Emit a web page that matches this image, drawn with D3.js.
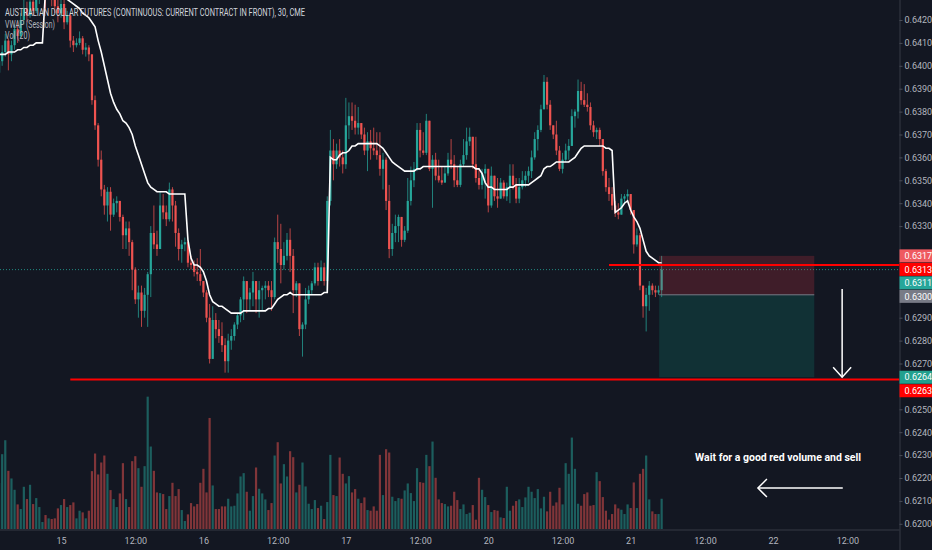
<!DOCTYPE html>
<html>
<head>
<meta charset="utf-8">
<script src="https://cdn.jsdelivr.net/npm/d3@7"></script>
<style>
html, body { margin: 0; padding: 0; background: #131722; overflow: hidden; }
svg { display: block; font-family: Roboto, "Noto Sans", sans-serif; }
</style>
</head>
<body>
<script>
// 30 min bars, Australian dollar futures. open of each bar = previous close
var openFirst = 0.6397;
var close = [
0.6402,0.6406,0.6411,0.6405,0.6409,0.6416,0.6413,0.6420,0.6425,0.6422,
0.6428,0.6424,0.6430,0.6433,0.6436,0.6431,0.6434,0.6430,0.6426,0.6423,
0.6427,0.6419,0.6422,0.6411,0.6409,0.6410,0.6412,0.6407,0.6408,0.6405,
0.6385,0.6374,0.6359,0.6346,0.6339,0.6345,0.6335,0.6340,0.6341,0.6334,
0.6326,0.6329,0.6323,0.6311,0.6298,0.6301,0.6293,0.6300,0.6309,0.6327,
0.6322,0.6320,0.6339,0.6336,0.6333,0.6346,0.6339,0.6327,0.6320,0.6322,
0.6323,0.6314,0.6313,0.6310,0.6309,0.6306,0.6301,0.6290,0.6272,0.6289,
0.6285,0.6282,0.6278,0.6271,0.6280,0.6282,0.6287,0.6291,0.6298,0.6306,
0.6298,0.6301,0.6306,0.6298,0.6302,0.6303,0.6304,0.6302,0.6299,0.6323,
0.6320,0.6313,0.6317,0.6324,0.6317,0.6302,0.6305,0.6285,0.6287,0.6298,
0.6302,0.6305,0.6312,0.6306,0.6312,0.6306,0.6341,0.6363,0.6357,0.6363,
0.6360,0.6357,0.6374,0.6378,0.6376,0.6373,0.6375,0.6370,0.6363,0.6367,
0.6364,0.6363,0.6361,0.6355,0.6359,0.6341,0.6320,0.6327,0.6330,0.6334,
0.6324,0.6328,0.6341,0.6350,0.6355,0.6372,0.6363,0.6362,0.6376,0.6355,
0.6359,0.6352,0.6350,0.6349,0.6353,0.6359,0.6357,0.6350,0.6348,0.6357,
0.6361,0.6367,0.6369,0.6357,0.6351,0.6348,0.6353,0.6355,0.6339,0.6352,
0.6343,0.6342,0.6349,0.6343,0.6347,0.6352,0.6348,0.6342,0.6347,0.6350,
0.6352,0.6354,0.6360,0.6368,0.6372,0.6381,0.6393,0.6383,0.6374,0.6370,
0.6363,0.6355,0.6359,0.6363,0.6365,0.6378,0.6380,0.6389,0.6385,0.6383,
0.6382,0.6374,0.6371,0.6372,0.6368,0.6354,0.6347,0.6344,0.6339,0.6336,
0.6335,0.6342,0.6343,0.6344,0.6337,0.6322,0.6326,0.6304,0.6295,0.6300,
0.6304,0.6302,0.6301,0.6302,0.6311];
var high = [
0.6405,0.6409,0.6414,0.6412,0.6411,0.6418,0.6419,0.6423,0.6429,0.6428,
0.6432,0.6430,0.6434,0.6437,0.6439,0.6437,0.6437,0.6436,0.6431,0.6429,
0.6430,0.6429,0.6424,0.6423,0.6413,0.6412,0.6415,0.6413,0.6410,0.6409,
0.6405,0.6387,0.6375,0.6363,0.6348,0.6347,0.6347,0.6342,0.6343,0.6341,
0.6335,0.6332,0.6332,0.6324,0.6312,0.6304,0.6304,0.6303,0.6310,0.6330,
0.6339,0.6328,0.6345,0.6344,0.6339,0.6349,0.6347,0.6341,0.6329,0.6324,
0.6325,0.6324,0.6317,0.6315,0.6316,0.6320,0.6306,0.6302,0.6296,0.6295,
0.6292,0.6289,0.6288,0.6281,0.6283,0.6285,0.6288,0.6292,0.6299,0.6308,
0.6306,0.6303,0.6310,0.6306,0.6306,0.6304,0.6306,0.6306,0.6306,0.6325,
0.6335,0.6331,0.6323,0.6327,0.6329,0.6320,0.6306,0.6304,0.6288,0.6303,
0.6304,0.6306,0.6314,0.6314,0.6315,0.6314,0.6343,0.6372,0.6368,0.6366,
0.6368,0.6363,0.6386,0.6384,0.6384,0.6383,0.6382,0.6375,0.6373,0.6371,
0.6372,0.6373,0.6371,0.6371,0.6362,0.6360,0.6348,0.6331,0.6335,0.6335,
0.6332,0.6330,0.6351,0.6356,0.6358,0.6375,0.6375,0.6371,0.6379,0.6375,
0.6361,0.6362,0.6359,0.6356,0.6356,0.6362,0.6368,0.6361,0.6356,0.6359,
0.6368,0.6373,0.6373,0.6369,0.6369,0.6355,0.6355,0.6357,0.6354,0.6356,
0.6352,0.6351,0.6351,0.6350,0.6349,0.6357,0.6357,0.6351,0.6351,0.6354,
0.6354,0.6356,0.6363,0.6371,0.6374,0.6383,0.6396,0.6395,0.6385,0.6374,
0.6376,0.6365,0.6362,0.6366,0.6368,0.6381,0.6381,0.6394,0.6393,0.6392,
0.6388,0.6384,0.6376,0.6373,0.6373,0.6368,0.6355,0.6351,0.6347,0.6341,
0.6340,0.6344,0.6344,0.6346,0.6343,0.6337,0.6329,0.6327,0.6304,0.6303,
0.6306,0.6305,0.6304,0.6304,0.6317];
var low = [
0.6397,0.6400,0.6404,0.6398,0.6402,0.6407,0.6410,0.6412,0.6418,0.6419,
0.6421,0.6422,0.6423,0.6427,0.6430,0.6425,0.6429,0.6426,0.6423,0.6419,
0.6421,0.6416,0.6418,0.6408,0.6406,0.6408,0.6409,0.6405,0.6404,0.6402,
0.6383,0.6372,0.6356,0.6343,0.6335,0.6332,0.6328,0.6334,0.6336,0.6332,
0.6320,0.6320,0.6317,0.6302,0.6296,0.6290,0.6286,0.6290,0.6286,0.6299,
0.6320,0.6317,0.6320,0.6333,0.6330,0.6332,0.6332,0.6321,0.6315,0.6314,
0.6319,0.6312,0.6311,0.6308,0.6306,0.6304,0.6299,0.6288,0.6270,0.6276,
0.6281,0.6279,0.6275,0.6266,0.6266,0.6276,0.6280,0.6285,0.6288,0.6289,
0.6292,0.6293,0.6295,0.6292,0.6290,0.6293,0.6298,0.6299,0.6293,0.6298,
0.6314,0.6305,0.6311,0.6315,0.6310,0.6292,0.6299,0.6282,0.6273,0.6285,
0.6296,0.6300,0.6304,0.6304,0.6309,0.6304,0.6301,0.6339,0.6350,0.6355,
0.6356,0.6353,0.6355,0.6368,0.6372,0.6370,0.6370,0.6368,0.6361,0.6354,
0.6359,0.6361,0.6359,0.6352,0.6346,0.6337,0.6316,0.6317,0.6323,0.6323,
0.6321,0.6323,0.6327,0.6339,0.6347,0.6354,0.6360,0.6361,0.6361,0.6354,
0.6338,0.6350,0.6349,0.6348,0.6350,0.6352,0.6355,0.6347,0.6347,0.6347,
0.6356,0.6359,0.6365,0.6355,0.6349,0.6346,0.6346,0.6342,0.6336,0.6338,
0.6341,0.6338,0.6342,0.6342,0.6341,0.6340,0.6346,0.6340,0.6340,0.6346,
0.6347,0.6349,0.6351,0.6359,0.6363,0.6371,0.6381,0.6381,0.6372,0.6368,
0.6361,0.6354,0.6353,0.6358,0.6359,0.6365,0.6373,0.6377,0.6383,0.6382,
0.6380,0.6372,0.6369,0.6368,0.6365,0.6352,0.6345,0.6341,0.6337,0.6334,
0.6333,0.6336,0.6340,0.6341,0.6335,0.6318,0.6321,0.6302,0.6290,0.6284,
0.6293,0.6300,0.6299,0.6300,0.6299];
var volume = [
1380,2250,2670,1750,1520,1180,740,600,1270,900,
1330,750,930,660,210,420,320,300,320,620,
720,900,660,720,800,320,550,500,320,550,
1740,2270,1640,2000,2210,1660,1170,900,660,1070,
1980,900,660,2040,2190,1830,1270,1890,3980,2480,
1750,1100,1080,1050,600,990,1390,990,1200,570,
240,440,780,680,750,1390,1810,1100,3340,1310,
600,600,680,680,910,680,700,1070,1580,1680,
1120,550,990,1850,1210,1070,890,570,780,2210,
2610,1370,1950,1580,2340,2160,1100,1330,2000,1280,
760,600,870,630,700,300,810,2230,1020,990,
2150,1660,1370,1590,1100,1200,910,780,950,570,
550,680,550,2230,1020,2400,2300,970,840,930,
910,1160,1370,1080,840,1830,1410,1390,2230,1890,
2630,1540,890,780,750,680,700,1120,870,600,
740,450,490,720,280,1540,1180,960,720,510,
570,550,350,330,1270,550,700,840,890,660,
950,1270,1120,930,1200,620,970,530,1120,700,
800,1240,740,1980,1660,2750,1810,760,700,1050,
1100,700,720,1710,1440,960,550,280,450,740,
620,580,450,740,630,1400,630,1660,1810,2210,
890,530,450,450,910];
var vwap = [
0.6405,0.6405,0.6405,0.6406,0.6406,0.6406,0.6407,0.6407,0.6408,0.6408,
0.6409,0.6409,0.6410,0.6410,0.6410,0.6433,0.6433,0.6433,0.6432,0.6431,
0.6431,0.6430,0.6429,0.6428,0.6427,0.6426,0.6425,0.6423,0.6422,0.6421,
0.6419,0.6417,0.6411,0.6406,0.6400,0.6394,0.6388,0.6384,0.6381,0.6379,
0.6376,0.6375,0.6373,0.6370,0.6365,0.6361,0.6357,0.6353,0.6349,0.6347,
0.6346,0.6345,0.6345,0.6345,0.6345,0.6344,0.6344,0.6344,0.6344,0.6344,
0.6344,0.6324,0.6316,0.6313,0.6313,0.6312,0.6310,0.6306,0.6300,0.6297,
0.6296,0.6295,0.6295,0.6294,0.6293,0.6292,0.6292,0.6292,0.6292,0.6293,
0.6293,0.6293,0.6293,0.6293,0.6293,0.6293,0.6293,0.6294,0.6294,0.6296,
0.6298,0.6299,0.6300,0.6300,0.6301,0.6300,0.6300,0.6300,0.6300,0.6300,
0.6300,0.6300,0.6300,0.6300,0.6300,0.6301,0.6301,0.6360,0.6359,0.6359,
0.6361,0.6362,0.6362,0.6363,0.6365,0.6365,0.6366,0.6366,0.6366,0.6366,
0.6366,0.6366,0.6366,0.6365,0.6364,0.6362,0.6360,0.6358,0.6357,0.6356,
0.6355,0.6354,0.6354,0.6354,0.6354,0.6355,0.6355,0.6356,0.6356,0.6356,
0.6356,0.6356,0.6356,0.6356,0.6356,0.6356,0.6356,0.6356,0.6356,0.6356,
0.6356,0.6356,0.6356,0.6356,0.6355,0.6355,0.6353,0.6349,0.6347,0.6347,
0.6346,0.6346,0.6346,0.6346,0.6346,0.6347,0.6347,0.6348,0.6348,0.6348,
0.6348,0.6348,0.6349,0.6350,0.6351,0.6352,0.6355,0.6356,0.6356,0.6357,
0.6358,0.6358,0.6358,0.6358,0.6358,0.6359,0.6360,0.6362,0.6364,0.6365,
0.6365,0.6365,0.6365,0.6365,0.6365,0.6365,0.6364,0.6364,0.6363,0.6336,
0.6337,0.6338,0.6340,0.6341,0.6337,0.6334,0.6332,0.6329,0.6324,0.6319,
0.6317,0.6316,0.6315,0.6314,0.6314];

// time axis: bar index of each label
var timeTickIdx = [20, 44, 66, 90, 112, 136, 158, 182, 204, 228, 250, 274];
var timeTickLabels = ["15", "12:00", "16", "12:00", "17", "12:00", "20", "12:00", "21", "12:00", "22", "12:00"];
var priceTicks = [0.6420, 0.6410, 0.6400, 0.6390, 0.6380, 0.6370, 0.6360, 0.6350, 0.6340, 0.6330, 0.6320,
  0.6310, 0.6300, 0.6290, 0.6280, 0.6270, 0.6260, 0.6250, 0.6240, 0.6230, 0.6220, 0.6210, 0.6200];

// labels on the price scale
var markPrices = [0.6317, 0.6313, 0.6311, 0.6300, 0.6264, 0.6263];
var markColors = ["#ef5a60", "#ff0000", "#26a69a", "#787b86", "#22a08e", "#ff0000"];

// drawings (anchored on bar index / price)
var hLines = [{price: 0.6313, from: 197}, {price: 0.6263, from: 23}];
var position = {from: 213.2, to: 263.3, entry: 0.6300, stop: 0.6317, target: 0.6264};
var lastPrice = 0.6311;
var note = {text: "Wait for a good red volume and sell", idx: 224.8, price: 0.62274};
var downArrow = {idx: 272.3, from: 0.63025, to: 0.6264};
var leftArrow = {price: 0.62156, from: 272.5, to: 245.1};

var W = 932, H = 550, plotR = 899.5, plotB = 529.5;

var svg = d3.select("body").append("svg")
  .attr("width", W)
  .attr("height", H);

svg.append("rect").attr("width", W).attr("height", H).attr("fill", "#131722");

var x = d3.scaleLinear().domain([20, 250]).range([61, 773.1]);
var y = d3.scaleLinear().domain([0.6420, 0.6200]).range([20, 523.8]);
var yVol = d3.scaleLinear().domain([0, 4000]).range([529, 396]);

svg.append("clipPath").attr("id", "plot")
  .append("rect").attr("x", 0).attr("y", 0).attr("width", plotR).attr("height", plotB);

var plot = svg.append("g").attr("clip-path", "url(#plot)");

var n = close.length;
var open = close.map(function(c, i) { return i === 0 ? openFirst : close[i - 1]; });
var up = function(i) { return close[i] >= open[i]; };

// volume
plot.append("g").selectAll("rect")
  .data(d3.range(n))
  .join("rect")
  .attr("x", function(i) { return x(i) - 1.1; })
  .attr("width", 2.2)
  .attr("y", function(i) { return yVol(volume[i]); })
  .attr("height", function(i) { return yVol(0) - yVol(volume[i]); })
  .attr("fill", function(i) { return up(i) ? "rgba(38,166,154,0.5)" : "rgba(239,83,80,0.5)"; });

// last price line
plot.append("line")
  .attr("x1", 0).attr("x2", plotR)
  .attr("y1", y(lastPrice)).attr("y2", y(lastPrice))
  .attr("stroke", "#26a69a")
  .attr("stroke-opacity", 0.8)
  .attr("stroke-dasharray", "1,2");

// candles
var candle = plot.append("g").selectAll("g")
  .data(d3.range(n))
  .join("g");

candle.append("line")
  .attr("x1", function(i) { return x(i); })
  .attr("x2", function(i) { return x(i); })
  .attr("y1", function(i) { return y(Math.max(high[i], open[i], close[i])); })
  .attr("y2", function(i) { return y(Math.min(low[i], open[i], close[i])); })
  .attr("stroke", function(i) { return up(i) ? "#26a69a" : "#ef5350"; })
  .attr("stroke-opacity", 0.75)
  .attr("stroke-width", 1);

candle.append("rect")
  .attr("x", function(i) { return x(i) - 1.1; })
  .attr("width", 2.2)
  .attr("y", function(i) { return y(Math.max(open[i], close[i])); })
  .attr("height", function(i) { return Math.max(1, Math.abs(y(open[i]) - y(close[i]))); })
  .attr("fill", function(i) { return up(i) ? "#26a69a" : "#ef5350"; });

// VWAP
var vwapLine = d3.line()
  .x(function(d, i) { return x(i); })
  .y(function(d) { return y(d); });

plot.append("path")
  .attr("d", vwapLine(vwap))
  .attr("fill", "none")
  .attr("stroke", "#ffffff")
  .attr("stroke-width", 1.6);

// short position box
plot.append("rect")
  .attr("x", x(position.from)).attr("width", x(position.to) - x(position.from))
  .attr("y", y(position.stop)).attr("height", y(position.entry) - y(position.stop))
  .attr("fill", "rgba(242,54,69,0.2)");
plot.append("rect")
  .attr("x", x(position.from)).attr("width", x(position.to) - x(position.from))
  .attr("y", y(position.entry)).attr("height", y(position.target) - y(position.entry))
  .attr("fill", "rgba(8,153,129,0.2)");
plot.append("line")
  .attr("x1", x(position.from)).attr("x2", x(position.to))
  .attr("y1", y(position.entry)).attr("y2", y(position.entry))
  .attr("stroke", "#787b86").attr("stroke-width", 1);

// red horizontal rays
plot.selectAll(".hline")
  .data(hLines)
  .join("line")
  .attr("class", "hline")
  .attr("x1", function(d) { return x(d.from); })
  .attr("x2", plotR)
  .attr("y1", function(d) { return y(d.price); })
  .attr("y2", function(d) { return y(d.price); })
  .attr("stroke", "#ff0000")
  .attr("stroke-width", 2);

// arrows
var ax = x(downArrow.idx), ay0 = y(downArrow.from), ay1 = y(downArrow.to);
plot.append("line").attr("x1", ax).attr("x2", ax).attr("y1", ay0).attr("y2", ay1)
  .attr("stroke", "#ffffff").attr("stroke-width", 1.5);
plot.append("polyline")
  .attr("points", [[ax - 9, ay1 - 10], [ax, ay1], [ax + 9, ay1 - 10]].join(" "))
  .attr("fill", "none").attr("stroke", "#ffffff").attr("stroke-width", 1.5);

var ly = y(leftArrow.price), lx0 = x(leftArrow.from), lx1 = x(leftArrow.to);
plot.append("line").attr("x1", lx0).attr("x2", lx1).attr("y1", ly).attr("y2", ly)
  .attr("stroke", "#ffffff").attr("stroke-width", 1.5);
plot.append("polyline")
  .attr("points", [[lx1 + 9, ly - 9], [lx1, ly], [lx1 + 9, ly + 9]].join(" "))
  .attr("fill", "none").attr("stroke", "#ffffff").attr("stroke-width", 1.5);

plot.append("text")
  .attr("x", x(note.idx))
  .attr("y", y(note.price))
  .attr("fill", "#ffffff")
  .style("font-size", "10.5px")
  .style("font-weight", "bold")
  .attr("textLength", 166)
  .attr("lengthAdjust", "spacingAndGlyphs")
  .text(note.text);

// legend
var legend = svg.append("g").style("font-size", "10px");
legend.append("text").attr("x", 5).attr("y", 16).attr("fill", "#d1d4dc")
  .attr("textLength", 300).attr("lengthAdjust", "spacingAndGlyphs")
  .text("AUSTRALIAN DOLLAR FUTURES (CONTINUOUS: CURRENT CONTRACT IN FRONT), 30, CME");
legend.append("text").attr("x", 5).attr("y", 27.5).attr("fill", "#b2b5be")
  .attr("textLength", 50).attr("lengthAdjust", "spacingAndGlyphs")
  .text("VWAP (Session)");
legend.append("text").attr("x", 5).attr("y", 39).attr("fill", "#b2b5be")
  .attr("textLength", 25).attr("lengthAdjust", "spacingAndGlyphs")
  .text("Vol (20)");

// price label positions, pushed apart so they don't overlap
var markY = [];
markPrices.forEach(function(p, i) {
  var yy = y(p);
  if (i > 0 && yy < markY[i - 1] + 13.5) yy = markY[i - 1] + 13.5;
  markY.push(yy);
});

// price axis
var yAxis = svg.append("g")
  .attr("transform", "translate(" + plotR + ",0)")
  .call(d3.axisRight(y)
    .tickValues(priceTicks.filter(function(p) {
      return markY.every(function(m) { return Math.abs(y(p) - m) > 11; });
    }))
    .tickFormat(d3.format(".4f"))
    .tickSize(3)
    .tickPadding(2));
yAxis.select(".domain").attr("stroke", "#363a45").attr("d", "M0.5,0V" + H);
yAxis.selectAll(".tick line").attr("stroke", "#4a4e59");
yAxis.selectAll("text").attr("fill", "#b2b5be").style("font-size", "9px")
  .style("font-family", "Roboto, sans-serif");

var marks = svg.append("g").selectAll("g")
  .data(markPrices)
  .join("g")
  .attr("transform", function(d, i) { return "translate(" + plotR + "," + markY[i] + ")"; });
marks.append("rect")
  .attr("x", 0).attr("y", -6.5).attr("width", W - plotR).attr("height", 13)
  .attr("fill", function(d, i) { return markColors[i]; });
marks.append("text")
  .attr("x", 5).attr("dy", "0.35em")
  .attr("fill", "#ffffff")
  .style("font-size", "9px")
  .text(d3.format(".4f"));

// time axis
var xAxis = svg.append("g")
  .attr("transform", "translate(0," + plotB + ")")
  .call(d3.axisBottom(x)
    .tickValues(timeTickIdx)
    .tickFormat(function(d, i) { return timeTickLabels[i]; })
    .tickSize(0)
    .tickPadding(8));
xAxis.select(".domain").attr("stroke", "#363a45").attr("d", "M0,0.5H" + plotR);
xAxis.selectAll("text").attr("fill", "#b2b5be").style("font-size", "9px")
  .style("font-family", "Roboto, sans-serif");
</script>
</body>
</html>
